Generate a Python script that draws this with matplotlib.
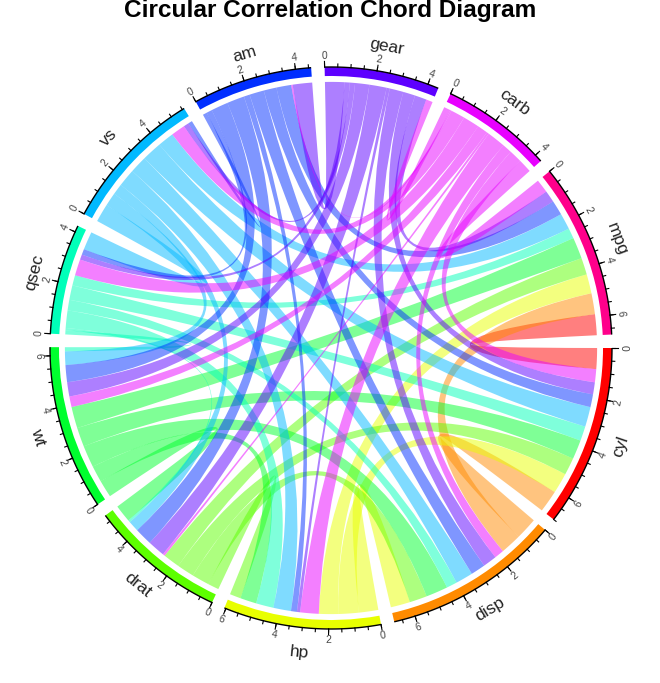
import numpy as np
import matplotlib
matplotlib.use("Agg")
import matplotlib.pyplot as plt
from matplotlib.patches import Wedge, PathPatch
from matplotlib.path import Path

plt.rcParams['font.family'] = ['Liberation Sans', 'DejaVu Sans']

# mtcars variables, order of the correlation matrix (decides the link colour)
variables = ["mpg", "cyl", "disp", "hp", "drat", "wt", "qsec", "vs", "am", "gear", "carb"]
# clockwise order of the sectors, starting at 3 o'clock
sector_order = ["cyl", "disp", "hp", "drat", "wt", "qsec", "vs", "am", "gear", "carb", "mpg"]
sector_colors = ["#FF0000", "#FF8B00", "#E8FF00", "#5DFF00", "#00FF2E", "#00FFB9",
                 "#00B9FF", "#002EFF", "#5D00FF", "#E800FF", "#FF008B"]

# absolute correlations
corr = [
    [1.00, 0.85, 0.85, 0.78, 0.68, 0.87, 0.42, 0.66, 0.60, 0.48, 0.55],
    [0.85, 1.00, 0.90, 0.83, 0.70, 0.78, 0.59, 0.81, 0.52, 0.49, 0.53],
    [0.85, 0.90, 1.00, 0.79, 0.71, 0.89, 0.43, 0.71, 0.59, 0.56, 0.39],
    [0.78, 0.83, 0.79, 1.00, 0.45, 0.66, 0.71, 0.72, 0.24, 0.13, 0.75],
    [0.68, 0.70, 0.71, 0.45, 1.00, 0.71, 0.09, 0.44, 0.71, 0.70, 0.09],
    [0.87, 0.78, 0.89, 0.66, 0.71, 1.00, 0.17, 0.55, 0.69, 0.58, 0.43],
    [0.42, 0.59, 0.43, 0.71, 0.09, 0.17, 1.00, 0.74, 0.23, 0.21, 0.66],
    [0.66, 0.81, 0.71, 0.72, 0.44, 0.55, 0.74, 1.00, 0.17, 0.21, 0.57],
    [0.60, 0.52, 0.59, 0.24, 0.71, 0.69, 0.23, 0.17, 1.00, 0.79, 0.06],
    [0.48, 0.49, 0.56, 0.13, 0.70, 0.58, 0.21, 0.21, 0.79, 1.00, 0.27],
    [0.55, 0.53, 0.39, 0.75, 0.09, 0.43, 0.66, 0.57, 0.06, 0.27, 1.00],
]

GAP = 2.75
LINK_R = 0.947
BAND_IN = 0.968

corr = np.array(corr)
n = len(sector_order)
color_of = dict(zip(sector_order, sector_colors))
idx = {name: i for i, name in enumerate(variables)}


def value(a, b):
    return corr[idx[a], idx[b]]


def xy(deg, r):
    # deg is measured clockwise from 3 o'clock
    t = np.radians(-deg)
    return r * np.cos(t), r * np.sin(t)


totals = [sum(value(s, o) for o in sector_order if o != s) for s in sector_order]
scale = (360 - n * GAP) / sum(totals)

starts = {}
pos = 0.0
for s, tot in zip(sector_order, totals):
    starts[s] = pos
    pos += tot * scale + GAP

# where each link sits inside a sector: partners walk backwards round the circle
spans = {}
for i, s in enumerate(sector_order):
    cur = starts[s]
    for k in range(1, n):
        o = sector_order[(i - k) % n]
        w = value(s, o) * scale
        spans[(s, o)] = (cur, cur + w)
        cur += w

fig = plt.figure(figsize=(6.6, 6.83), dpi=100)
ax = fig.add_axes([0, 0, 1, 1])
CX, CY, R = 331.0, 348.0, 281.0
ax.set_xlim(-CX / R, (660 - CX) / R)
ax.set_ylim(-(683 - CY) / R, CY / R)
ax.axis("off")


def edge(d1, d2):
    # control point close to the centre, only close pairs stay off it
    half = ((d2 - d1 + 180) % 360 - 180) / 2
    beta = np.radians(abs(half))
    ctrl = LINK_R * 0.05 * np.cos(beta) ** 4
    return xy(d1 + half, ctrl), xy(d2, LINK_R)


def arc(d1, d2):
    return [xy(d, LINK_R) for d in np.linspace(d1, d2, 20)[1:]]


for i, a in enumerate(variables):
    for b in variables[:i]:
        a1, a2 = spans[(a, b)]
        b1, b2 = spans[(b, a)]
        verts = [xy(a1, LINK_R)]
        codes = [Path.MOVETO]
        verts += arc(a1, a2)
        codes += [Path.LINETO] * 19
        verts += edge(a2, b1)
        codes += [Path.CURVE3] * 2
        verts += arc(b1, b2)
        codes += [Path.LINETO] * 19
        verts += edge(b2, a1)
        codes += [Path.CURVE3] * 2
        ax.add_patch(PathPatch(Path(verts, codes), facecolor=color_of[a], alpha=0.5, lw=0))


def flip_rot(deg):
    # top half reads clockwise, bottom half is turned round
    ang = -deg % 360
    return ang - 90 if ang < 180 else ang + 90


for s, tot in zip(sector_order, totals):
    d0 = starts[s]
    d1 = d0 + tot * scale
    ax.add_patch(Wedge((0, 0), 1.0, -d1, -d0, width=1.0 - BAND_IN, color=color_of[s], lw=0))
    aa = np.linspace(d0, d1, 60)
    ax.plot(*xy(aa, 1.0), color="black", lw=1.0, solid_capstyle="butt")

    for v in np.arange(0, tot + 0.001, 0.5):
        d = d0 + v * scale
        p, q = xy(d, 1.0), xy(d, 1.011)
        ax.plot([p[0], q[0]], [p[1], q[1]], color="black", lw=0.8)

    for v in np.arange(0, tot + 0.2, 2):
        d = d0 + min(v, tot) * scale
        p, q = xy(d, 1.0), xy(d, 1.02)
        ax.plot([p[0], q[0]], [p[1], q[1]], color="black", lw=0.8)
        tx, ty = xy(d, 1.04)
        ax.text(tx, ty, str(int(v)), fontsize=7.5, color="#444444", ha="center", va="center",
                rotation=flip_rot(d), rotation_mode="anchor")

    dm = (d0 + d1) / 2
    tx, ty = xy(dm, 1.09)
    ax.text(tx, ty, s, fontsize=12.5, color="#222222", ha="center", va="center",
            rotation=flip_rot(dm), rotation_mode="anchor")

fig.text(330 / 660, 1 - 11 / 683, "Circular Correlation Chord Diagram", fontsize=17.6,
         fontweight="bold", ha="center", va="center", color="black")

fig.savefig("out.png", dpi=100)
